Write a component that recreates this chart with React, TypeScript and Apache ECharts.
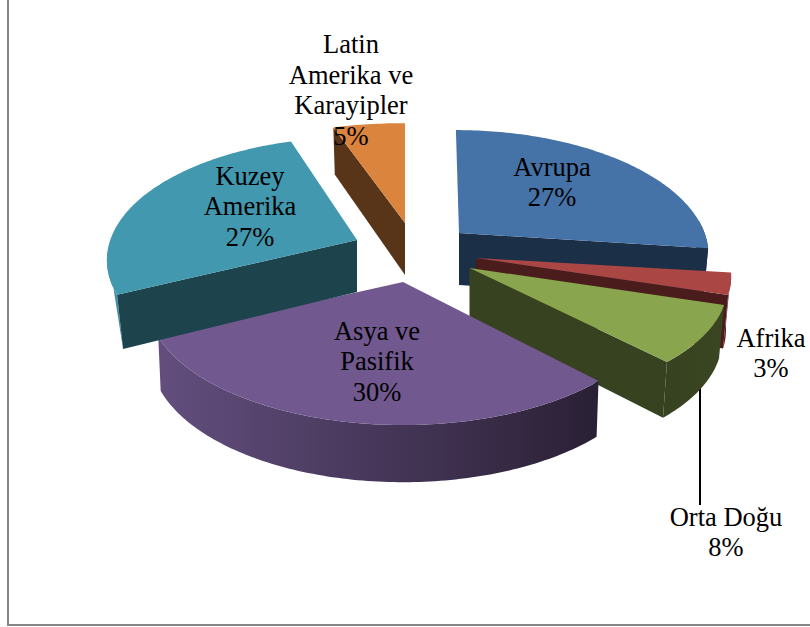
import React, { useEffect, useRef } from "react";
import * as echarts from "echarts";

// Regional shares, clockwise from twelve o'clock
const regions = ["Avrupa", "Afrika", "Orta Doğu", "Asya ve\nPasifik", "Kuzey\nAmerika", "Latin\nAmerika ve\nKarayipler"];
const shares = [27, 3, 8, 30, 27, 5];

const topColors = ["#4572A7", "#AA4643", "#89A54E", "#71588F", "#4198AF", "#DB843D"];
const cutColors = ["#1B2F47", "#4A1C1B", "#374220", "#2E2339", "#1D434D", "#583518"];
// Outer wall shading, as [left colour, right colour]
const wallColors = [
  ["#1B2F47", "#1B2F47"],
  ["#6A2422", "#6A2422"],
  ["#374220", "#3A4522"],
  ["#634E7E", "#2A2035"],
  ["#418FA8", "#3A8099"],
  ["#583518", "#583518"],
];

// Where each exploded slice's tip sits on the page
const tips = [[459, 233], [476, 258], [469.5, 268], [403, 282], [357, 240], [405, 223]];
// Per-slice rim adjustment: [x stretch, y stretch, shear, lower rim x factor]
const rimAdjust = [
  [0.99, 1, 0.03, 0.98],
  [1.015, 0.95, 0, 0.98],
  [1.025, 0.95, 0, 0.98],
  [1.015, 1, 0, 0.99],
  [0.995, 1, 0, 0.975],
  [1.08, 0.97, 0, 0.98],
];
// Painting order, back to front
const paintOrder = [5, 0, 1, 2, 3, 4];
// Label centres
const labelCentres = [[552, 182], [771, 353], [726, 532], [377, 361], [250, 206], [351, 90]];
// Degrees of Kuzey Amerika's rim whose wall closes with a straight silhouette
const silhouetteSweep = 20;

const RX = 248;
const RY = 119.7;
const PERSPECTIVE = 0.163;
const DEPTH = 52;
const FONT = '26.5px "Liberation Serif"';

// Offset from a slice's tip of the rim at a clockwise angle, in perspective
function rim(deg: number, lower: boolean, adjust: number[]) {
  const a = (deg * Math.PI) / 180;
  const c = -Math.cos(a);
  const s = 1 - PERSPECTIVE * c;
  const y = ((RY * c) / s) * adjust[1];
  const x = ((RX * Math.sin(a)) / s) * adjust[0] + adjust[2] * y;
  return lower ? [x * adjust[3], y + DEPTH * (1 + 0.1 * c)] : [x, y];
}

function arcPoints(i: number, from: number, to: number, lower: boolean) {
  const steps = Math.max(2, Math.ceil(to - from));
  const pts: number[][] = [];
  for (let k = 0; k <= steps; k++) {
    const r = rim(from + ((to - from) * k) / steps, lower, rimAdjust[i]);
    pts.push([tips[i][0] + r[0], tips[i][1] + r[1]]);
  }
  return pts;
}

function renderSlice(params: any, api: any) {
  const i = params.dataIndex;
  const total = shares.reduce((a, b) => a + b, 0);
  const before = shares.slice(0, i).reduce((a, b) => a + b, 0);
  const from = (before / total) * 360;
  const to = ((before + api.value(0)) / total) * 360;
  const tip = tips[i];
  const order = paintOrder.indexOf(i) * 10;

  const upper = arcPoints(i, from, to, false);
  const lower = arcPoints(i, from, to, true);
  const tipLow = [tip[0], tip[1] + DEPTH];
  const xs = upper.map((p) => p[0]);
  const wallFill = new echarts.graphic.LinearGradient(
    Math.min(...xs), 0, Math.max(...xs), 0,
    [{ offset: 0, color: wallColors[i][0] }, { offset: 1, color: wallColors[i][1] }],
    true
  );

  const poly = (points: number[][], fill: any, z2: number) => ({
    type: "polygon",
    shape: { points },
    style: { fill },
    z2,
  });

  const children: any[] = [];
  // The outer wall only shows on the near half of the rim
  const wallFrom = Math.max(from, 84);
  const wallTo = Math.min(to, 276);
  if (wallTo > wallFrom) {
    if (regions[i].startsWith("Kuzey")) {
      const band = arcPoints(i, from, from + silhouetteSweep, false);
      children.push(poly([...band, lower[0]], wallFill, order + 1));
    } else {
      const up = arcPoints(i, wallFrom, wallTo, false);
      const low = arcPoints(i, wallFrom, wallTo, true);
      children.push(poly([...up, ...low.reverse()], wallFill, order + 1));
    }
  }
  // A radial cut only shows when it faces the viewer
  if (Math.sin((from * Math.PI) / 180) < -0.01) {
    children.push(poly([tip, upper[0], lower[0], tipLow], cutColors[i], order + 2));
  }
  if (Math.sin((to * Math.PI) / 180) > 0.01) {
    children.push(poly([tip, upper[upper.length - 1], lower[lower.length - 1], tipLow], cutColors[i], order + 3));
  }
  children.push(poly([tip, ...upper], topColors[i], order + 4));
  children.push({
    type: "text",
    x: labelCentres[i][0],
    y: labelCentres[i][1],
    z2: 500,
    style: {
      text: `${regions[i]}\n${api.value(0)}%`,
      font: FONT,
      fill: "#000000",
      align: "center",
      verticalAlign: "middle",
      lineHeight: 30.5,
    },
  });
  return { type: "group", children };
}

export default function App() {
  const ref = useRef<HTMLDivElement>(null);
  useEffect(() => {
    const chart = echarts.init(ref.current!, null, { renderer: "svg" });
    chart.setOption({
      animation: false,
      backgroundColor: "#ffffff",
      graphic: [
        { type: "line", shape: { x1: 8, y1: 0, x2: 8, y2: 625 }, style: { stroke: "#868686", lineWidth: 2 } },
        { type: "line", shape: { x1: 7, y1: 625, x2: 810, y2: 625 }, style: { stroke: "#868686", lineWidth: 2 } },
        { type: "line", shape: { x1: 700, y1: 380, x2: 700, y2: 505 }, style: { stroke: "#000000", lineWidth: 2 } },
      ],
      series: [
        {
          type: "custom",
          coordinateSystem: "none",
          renderItem: renderSlice,
          data: shares.map((v, i) => ({ name: regions[i], value: [v] })),
        },
      ],
    });
    return () => chart.dispose();
  }, []);
  return <div ref={ref} style={{ position: "absolute", left: 0, top: 0, width: 810, height: 627 }} />;
}
